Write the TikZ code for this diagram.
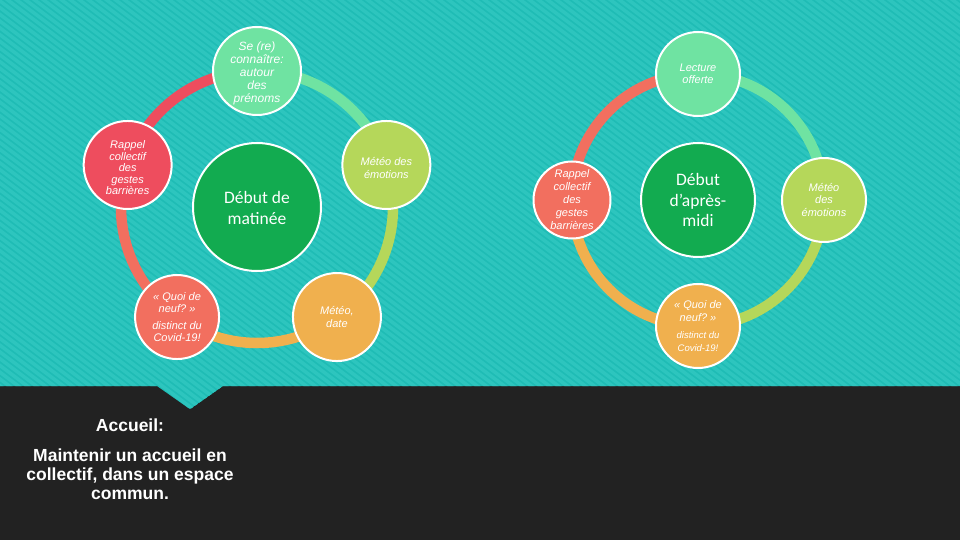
\documentclass[tikz,border=0pt]{standalone}
\usepackage{fontspec}
\setmainfont{Liberation Sans}
\newfontfamily\calfont{Carlito}
\definecolor{tealc}{HTML}{1FBCB5}
\definecolor{stripec}{HTML}{2DC5BE}
\definecolor{darkc}{HTML}{222222}
\definecolor{mintc}{HTML}{6FE3A2}
\definecolor{redc}{HTML}{EE4D5E}
\definecolor{salmonc}{HTML}{F26F5F}
\definecolor{orangec}{HTML}{F0B04E}
\definecolor{limec}{HTML}{B5D75A}
\definecolor{dkgreenc}{HTML}{12AB50}
\tikzset{
  bub/.style={circle, draw=white, line width=2pt, inner sep=0pt},
  lbl/.style={text=white, align=center, inner sep=0pt, font=\fontsize{11}{12.5}\selectfont\itshape},
  mid/.style={text=white, align=center, inner sep=0pt, font=\calfont\fontsize{17.5}{20.5}\selectfont},
  ring/.style={line width=10.5pt},
  btxt/.style={text=white, align=center, inner sep=0pt, font=\bfseries\fontsize{17.5}{19}\selectfont}
}
\def\tealpath{(0,0) -- (960,0) -- (960,-386) -- (223,-386) -- (194.5,-406) .. controls (190,-409.5) .. (185.5,-406) -- (157,-386) -- (0,-386) -- cycle}
\begin{document}
\begin{tikzpicture}[x=1pt,y=1pt]
\useasboundingbox (0,0) rectangle (960,-540);
\fill[darkc] (0,0) rectangle (960,-540);
\begin{scope}
  \clip \tealpath;
  \fill[tealc] \tealpath;
  \foreach \i in {-620,-611,...,960} \draw[stripec, line width=3.5pt] (\i,5) -- ++(570,-427.5);
\end{scope}
% ---------- left cycle ----------
\coordinate (C1) at (257,-207);
\draw[ring, redc] ([shift={(90:136)}]C1) arc[start angle=90, end angle=162, radius=136];
\draw[ring, salmonc] ([shift={(162:136)}]C1) arc[start angle=162, end angle=234, radius=136];
\draw[ring, orangec] ([shift={(234:136)}]C1) arc[start angle=234, end angle=306, radius=136];
\draw[ring, limec] ([shift={(306:136)}]C1) arc[start angle=306, end angle=378, radius=136];
\draw[ring, mintc] ([shift={(18:136)}]C1) arc[start angle=18, end angle=90, radius=136];
\node[bub, fill=dkgreenc, minimum size=128pt] (m1) at (C1) {};
\node[mid] at ([yshift=-1pt]m1) {Début de\\matinée};
\node[bub, fill=mintc, minimum size=88pt] (se) at ([shift={(90:136)}]C1) {};
\node[lbl, font=\fontsize{12}{13}\selectfont\itshape] at ([yshift=-2pt]se) {Se (re)\\connaître:\\autour\\des\\prénoms};
\node[bub, fill=redc, minimum size=88pt] (ra1) at ([shift={(162:136)}]C1) {};
\node[lbl, font=\fontsize{11}{11.5}\selectfont\itshape] at ([yshift=-3pt]ra1) {Rappel\\collectif\\des\\gestes\\barrières};
\node[bub, fill=salmonc, minimum size=84pt] (qu1) at ([shift={(234:136)}]C1) {};
\node[lbl] at (qu1) {«~Quoi de\\neuf?~»\\[4pt]distinct du\\Covid-19!};
\node[bub, fill=orangec, minimum size=88pt] (md) at ([shift={(306:136)}]C1) {};
\node[lbl] at (md) {Météo,\\date};
\node[bub, fill=limec, minimum size=88pt] (me1) at ([shift={(18:136)}]C1) {};
\node[lbl] at ([yshift=-3pt]me1) {Météo des\\émotions};
% ---------- right cycle ----------
\coordinate (C2) at (698,-200);
\draw[ring, salmonc] ([shift={(90:126)}]C2) arc[start angle=90, end angle=180, radius=126];
\draw[ring, orangec] ([shift={(180:126)}]C2) arc[start angle=180, end angle=270, radius=126];
\draw[ring, limec] ([shift={(270:126)}]C2) arc[start angle=270, end angle=360, radius=126];
\draw[ring, mintc] ([shift={(0:126)}]C2) arc[start angle=0, end angle=90, radius=126];
\node[bub, fill=dkgreenc, minimum size=114pt] (m2) at (C2) {};
\node[mid] at (m2) {Début\\d’après-\\midi};
\node[bub, fill=mintc, minimum size=84pt] (le) at ([shift={(90:126)}]C2) {};
\node[lbl] at (le) {Lecture\\offerte};
\node[bub, fill=salmonc, minimum size=77pt] (ra2) at ([shift={(180:126)}]C2) {};
\node[lbl, font=\fontsize{11}{13}\selectfont\itshape] at (ra2) {Rappel\\collectif\\des\\gestes\\barrières};
\node[bub, fill=orangec, minimum size=84pt] (qu2) at ([shift={(270:126)}]C2) {};
\node[lbl] at (qu2) {«~Quoi de\\neuf?~»\\[5pt]{\fontsize{9.5}{12}\selectfont distinct du}\\{\fontsize{9.5}{12}\selectfont Covid-19!}};
\node[bub, fill=limec, minimum size=84pt] (me2) at ([shift={(0:126)}]C2) {};
\node[lbl] at (me2) {Météo\\des\\émotions};
% ---------- bottom text ----------
\node[btxt] (acc) at (130,-425) {Accueil:};
\node[btxt] (mt) at (130,-474) {Maintenir un accueil en\\collectif, dans un espace\\commun.};
\end{tikzpicture}
\end{document}
